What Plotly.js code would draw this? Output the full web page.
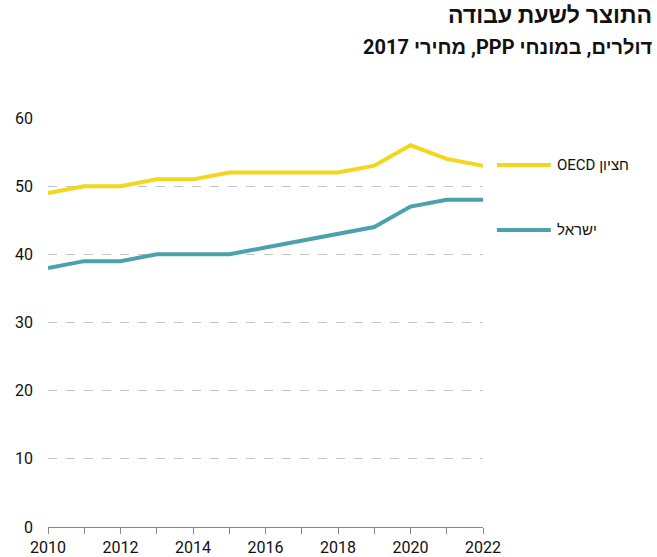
<!DOCTYPE html>
<html><head><meta charset="utf-8">
<script src="https://cdn.plot.ly/plotly-3.0.1.min.js"></script>
<style>body{margin:0;background:#fff}#chart{width:657px;height:557px}</style>
</head><body><div id="chart"></div>
<script>
const years = [2010,2011,2012,2013,2014,2015,2016,2017,2018,2019,2020,2021,2022];
const oecdMedian = [49,50,50,51,51,52,52,52,52,53,56,54,53];
const israel = [38,39,39,40,40,40,41,42,43,44,47,48,48];
const seriesNames = ['OECD חציון', 'ישראל'];
const seriesColors = ['#F2D71C', '#4BA2AD'];
const yTicks = [0,10,20,30,40,50,60];
const titleText = 'התוצר לשעת עבודה';
const subtitleText = '\u202Bדולרים, במונחי PPP, מחירי 2017\u202C';

const font = 'Roboto, "Noto Sans", sans-serif';
const traces = [oecdMedian, israel].map((v,i)=>({
  x: years, y: v, type:'scatter', mode:'lines', name: seriesNames[i],
  line:{color:seriesColors[i], width:4}, hoverinfo:'skip', showlegend:false, cliponaxis:false
}));

const legendY = [0.885, 0.726];
const shapes = legendY.map((y,i)=>({type:'line', xref:'paper', yref:'paper', x0:1.032, x1:1.156, y0:y, y1:y,
  line:{color:seriesColors[i], width:4}}));
const annotations = legendY.map((y,i)=>({xref:'paper', yref:'paper', x:1.165, y:y, xanchor:'left', yanchor:'middle',
  text: seriesNames[i], showarrow:false, font:{family:font, size:15, color:'#111'}}));
annotations.push({xref:'paper', yref:'paper', x:(654-48)/435, y:(527-15)/409, xanchor:'right', yanchor:'middle',
  text:'<b>'+titleText+'</b>', showarrow:false, font:{family:font, size:23, color:'#111'}});
annotations.push({xref:'paper', yref:'paper', x:(654-48)/435, y:(527-47)/409, xanchor:'right', yanchor:'middle',
  text:'<b>'+subtitleText+'</b>', showarrow:false, font:{family:font, size:20, color:'#111'}});

const layout = {
  width:657, height:557, margin:{l:48, r:174, t:118, b:30},
  paper_bgcolor:'#fff', plot_bgcolor:'#fff', showlegend:false,
  font:{family:font, size:16, color:'#111'},
  xaxis:{range:[2010,2022], tickmode:'linear', tick0:2010, dtick:2, ticks:'outside', ticklen:6, tickcolor:'#888',
    showline:true, linecolor:'#888', linewidth:1, showgrid:false, zeroline:false, fixedrange:true,
    minor:{dtick:1, tick0:2010, ticks:'outside', ticklen:6, tickcolor:'#888', showgrid:false},
    tickfont:{family:font, size:16, color:'#111'}},
  yaxis:{range:[0,60], tickvals:yTicks, ticks:'', showline:false, zeroline:false, showgrid:true,
    gridcolor:'#c4c4c4', griddash:'dash', gridwidth:1, ticklabelstandoff:14, fixedrange:true,
    tickfont:{family:font, size:16, color:'#111'}},
  shapes: shapes, annotations: annotations
};
Plotly.newPlot('chart', traces, layout, {displayModeBar:false, staticPlot:true});
</script></body></html>
